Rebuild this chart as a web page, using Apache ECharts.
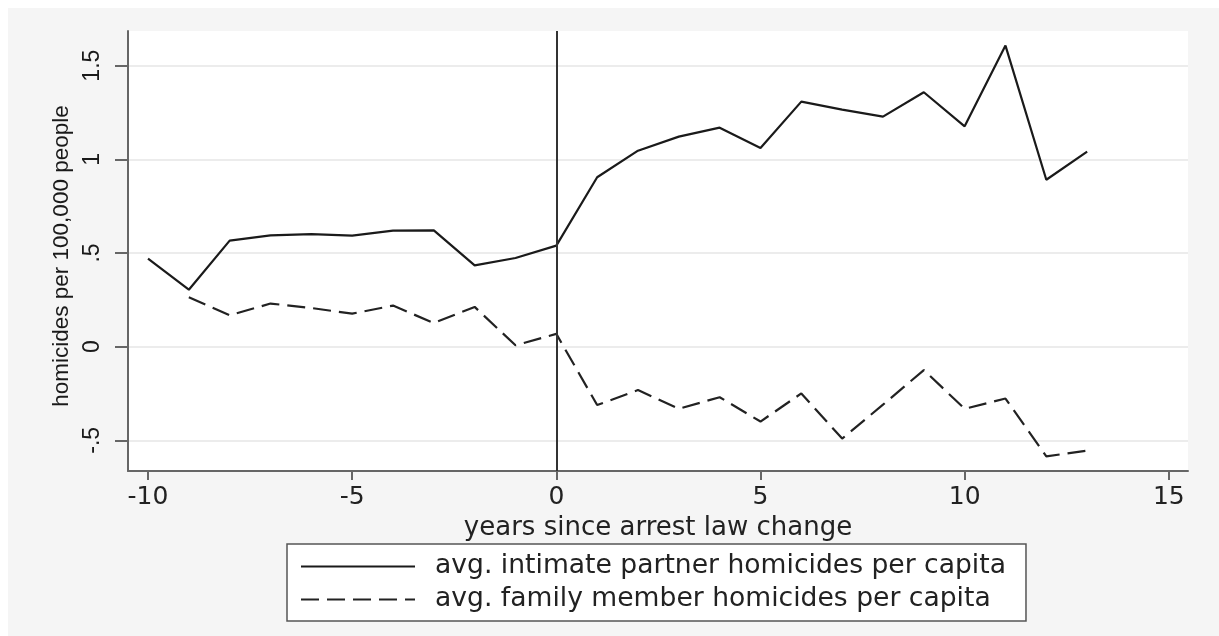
<!DOCTYPE html>
<html>
<head>
<meta charset="utf-8">
<script src="https://cdn.jsdelivr.net/npm/echarts@6/dist/echarts.min.js"></script>
<style>html,body{margin:0;padding:0;background:#fff}#c{width:1219px;height:636px}</style>
</head>
<body>
<div id="c"></div>
<script>
// ---- data ----
const years = [-10,-9,-8,-7,-6,-5,-4,-3,-2,-1,0,1,2,3,4,5,6,7,8,9,10,11,12,13];
const partner = [0.470,0.304,0.566,0.594,0.601,0.593,0.619,0.621,0.434,0.473,0.539,0.904,1.046,1.121,1.169,1.060,1.308,1.265,1.228,1.358,1.176,1.607,0.891,1.041];
const family = [null,0.263,0.167,0.230,0.206,0.176,0.219,0.126,0.212,0.007,0.068,-0.312,-0.232,-0.332,-0.270,-0.400,-0.250,-0.491,-0.310,-0.125,-0.332,-0.277,-0.586,-0.555];
const xTicks = [-10,-5,0,5,10,15];
const yTicks = [-0.5,0,0.5,1,1.5];
const seriesNames = ['avg. intimate partner homicides per capita','avg. family member homicides per capita'];
const xTitle = 'years since arrest law change';
const yTitle = 'homicides per 100,000 people';
const eventYear = [0];

const pairs = vals => years.map((x,i) => [x, vals[i] === null ? '-' : vals[i]]);
const yFmt = v => String(v).replace('0.', '.');

const chart = echarts.init(document.getElementById('c'), null, {renderer:'canvas'});
chart.setOption({
  backgroundColor: '#f5f5f5',
  animation: false,
  graphic: [
    {type:'rect', shape:{x:0,y:0,width:1219,height:8}, style:{fill:'#ffffff'}, silent:true},
    {type:'rect', shape:{x:0,y:0,width:8,height:636}, style:{fill:'#ffffff'}, silent:true}
  ],
  grid: {left:128, right:31, top:31, bottom:165, show:true, backgroundColor:'#ffffff', borderWidth:0},
  xAxis: {
    type:'value', min:-10.49, max:15.47,
    name: xTitle, nameLocation:'middle', nameGap:36,
    nameTextStyle:{fontFamily:'DejaVu Sans', fontSize:26, color:'#222'},
    axisLine:{show:true, onZero:false, lineStyle:{color:'#666', width:2}},
    axisTick:{show:true, length:9, customValues:xTicks, lineStyle:{color:'#666', width:2}},
    axisLabel:{customValues:xTicks, margin:14, fontFamily:'DejaVu Sans', fontSize:25, color:'#222'},
    splitLine:{show:false}
  },
  yAxis: {
    type:'value', min:-0.664, max:1.685,
    name: yTitle, nameLocation:'middle', nameGap:52, nameRotate:90,
    nameTextStyle:{fontFamily:'Liberation Sans', fontSize:22.5, color:'#1a1a1a', padding:[0,10,0,0]},
    axisLine:{show:true, onZero:false, lineStyle:{color:'#666', width:2}},
    axisTick:{show:true, length:13, customValues:yTicks, lineStyle:{color:'#666', width:2}},
    axisLabel:{customValues:yTicks, rotate:90, margin:24, formatter:yFmt, fontFamily:'Liberation Sans', fontSize:23, color:'#1a1a1a'},
    splitLine:{show:true, lineStyle:{color:'#ececec', width:2}}
  },
  legend: {
    orient:'vertical', left:287, top:544,
    backgroundColor:'#ffffff', borderColor:'#555', borderWidth:1.5, borderRadius:0,
    padding:[9,20,8,13], itemGap:6, itemWidth:114, itemHeight:14,
    itemStyle:{opacity:0},
    textStyle:{fontFamily:'DejaVu Sans', fontSize:26.6, color:'#222', lineHeight:26, padding:[0,0,0,15]},
    data: seriesNames
  },
  series: [
    {
      name: seriesNames[0], type:'line', data: pairs(partner), symbol:'none',
      lineStyle:{color:'#1a1a1a', width:2.2, type:'solid'}, itemStyle:{color:'#1a1a1a'},
      markLine:{silent:true, symbol:'none', label:{show:false},
        lineStyle:{color:'#333', width:2, type:'solid'},
        data: eventYear.map(v => ({xAxis:v}))}
    },
    {
      name: seriesNames[1], type:'line', data: pairs(family), symbol:'none', connectNulls:false,
      lineStyle:{color:'#222', width:2.2, type:[18,8]}, itemStyle:{color:'#222'}
    }
  ]
});
</script>
</body>
</html>
